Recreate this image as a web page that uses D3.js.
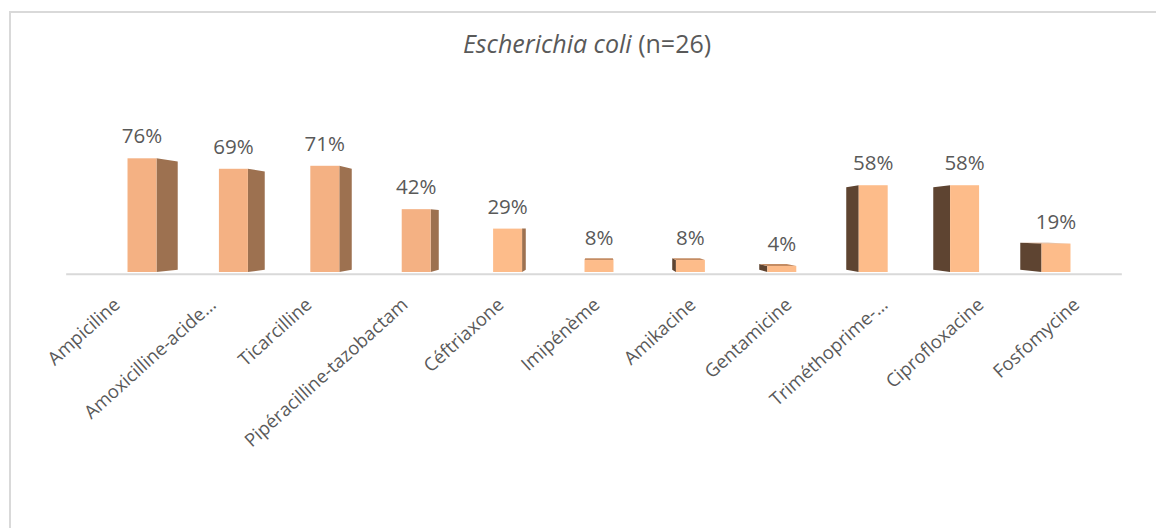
<!DOCTYPE html>
<html>
<head>
<meta charset="utf-8">
<script src="https://cdn.jsdelivr.net/npm/d3@7"></script>
<style>
  html, body { margin: 0; padding: 0; background: #ffffff; }
  svg { display: block; }
  text { font-family: "Open Sans", "Noto Sans", sans-serif; fill: #595959; }
</style>
</head>
<body>
<svg id="chart" width="1156" height="528"></svg>
<script>
// Résistance aux antibiotiques — Escherichia coli
const categories = [
  "Ampiciline", "Amoxicilline-acide…", "Ticarcilline", "Pipéracilline-tazobactam",
  "Céftriaxone", "Imipénème", "Amikacine", "Gentamicine",
  "Triméthoprime-…", "Ciprofloxacine", "Fosfomycine"
];
const values = [76, 69, 71, 42, 29, 8, 8, 4, 58, 58, 19];
const titleItalic = "Escherichia coli";
const titleRest = " (n=26)";

const W = 1156, H = 528;
const svg = d3.select("#chart");

// chart frame
svg.append("rect")
  .attr("x", 10).attr("y", 12)
  .attr("width", W + 20).attr("height", H + 20)
  .attr("fill", "#ffffff")
  .attr("stroke", "#d9d9d9").attr("stroke-width", 2);

// scales (bar plane)
const x = d3.scaleBand()
  .domain(categories)
  .range([96.3, 1101.7])
  .paddingInner(0.683)
  .paddingOuter(0.3415);

const y = d3.scaleLinear().domain([0, 100]).range([272, 122.4]);

// simple perspective: points move toward a vanishing point with depth t
const VX = 599, VY = 225;
const depth = 0.048;      // bar depth
const floorFront = -0.05; // front edge of the floor
function proj(px, py, t) {
  return [px + t * (VX - px), py + t * (VY - py)];
}

// floor / category axis line
const a0 = proj(x.range()[0], y(0), floorFront);
const a1 = proj(x.range()[1], y(0), floorFront);
svg.append("line")
  .attr("x1", a0[0] - 5).attr("y1", a0[1])
  .attr("x2", a1[0] - 5).attr("y2", a1[1])
  .attr("stroke", "#d9d9d9").attr("stroke-width", 2);

const bars = svg.append("g");
const poly = pts => pts.map(p => p.join(",")).join(" ");

categories.forEach((c, i) => {
  const v = values[i];
  const x0 = x(c), x1 = x(c) + x.bandwidth();
  const yt = y(v), yb = y(0);
  const cx = (x0 + x1) / 2;
  const leftSide = cx < VX - 10;   // side face visible on the right
  const rightSide = cx > VX + 10;  // side face visible on the left

  // side face
  if (leftSide) {
    bars.append("polygon")
      .attr("points", poly([[x1, yt], proj(x1, yt, depth), proj(x1, yb, depth), [x1, yb]]))
      .attr("fill", "#9d7150");
  } else if (rightSide) {
    bars.append("polygon")
      .attr("points", poly([[x0, yt], proj(x0, yt, depth), proj(x0, yb, depth), [x0, yb]]))
      .attr("fill", "#5e4431");
  }
  // top face (visible when the top lies below the eye level)
  if (yt > VY) {
    bars.append("polygon")
      .attr("points", poly([[x0, yt], [x1, yt], proj(x1, yt, depth), proj(x0, yt, depth)]))
      .attr("fill", "#c48c63");
  }
  // front face
  bars.append("rect")
    .attr("x", x0).attr("y", yt)
    .attr("width", x.bandwidth()).attr("height", yb - yt)
    .attr("fill", cx < VX - 150 ? "#f4b183" : "#fdbc8a");

  // value label
  svg.append("text")
    .attr("x", cx).attr("y", yt - 15)
    .attr("text-anchor", "middle")
    .attr("font-size", 20.5)
    .text(v + "%");

  // category label, rotated
  const lp = proj(cx, y(0), floorFront);
  svg.append("text")
    .attr("transform", `translate(${lp[0] + 2},${lp[1] + 32}) rotate(-42)`)
    .attr("text-anchor", "end")
    .attr("font-size", 18.5)
    .text(c);
});

// title
const title = svg.append("text")
  .attr("x", 587).attr("y", 53)
  .attr("text-anchor", "middle")
  .attr("font-size", 25);
title.append("tspan").attr("font-style", "italic").text(titleItalic);
title.append("tspan").text(titleRest);
</script>
</body>
</html>
